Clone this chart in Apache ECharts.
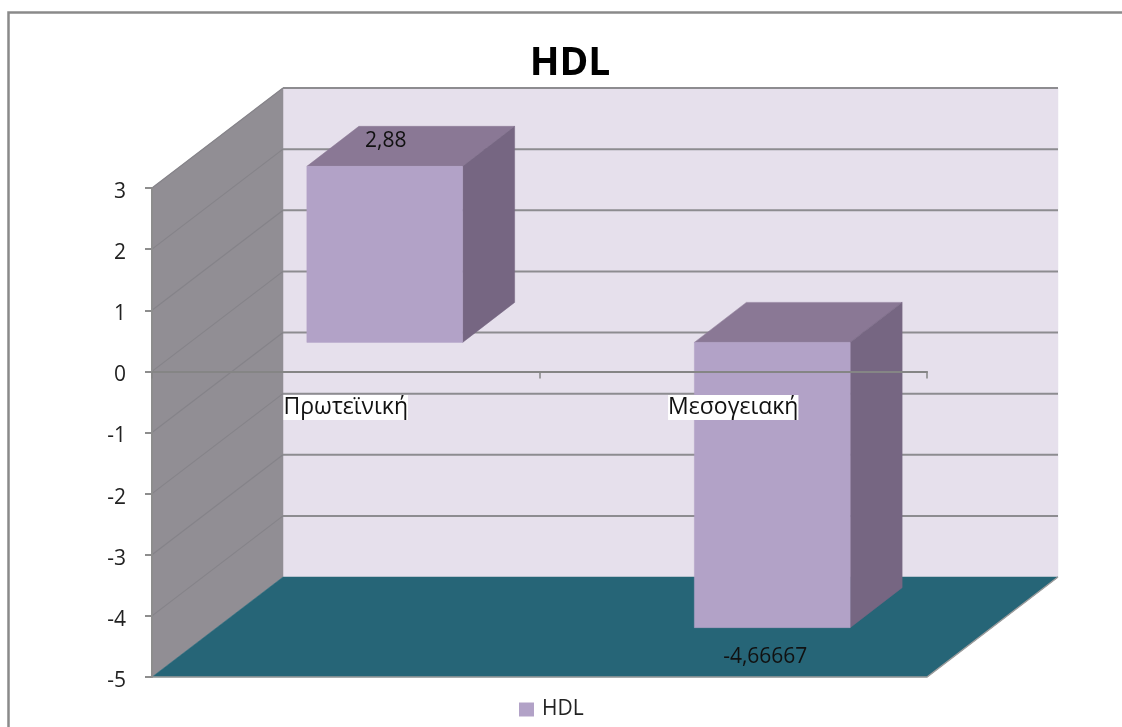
<!DOCTYPE html>
<html><head><meta charset="utf-8">
<style>html,body{margin:0;padding:0;background:#fff}#c{width:1122px;height:727px}</style>
<script src="https://cdn.jsdelivr.net/npm/echarts@6/dist/echarts.min.js"></script>
</head><body><div id="c"></div>
<script>
const categories = ['Πρωτεϊνική', 'Μεσογειακή'];
const hdlValues = [2.88, -4.66667];
const valueLabels = ['2,88', '-4,66667'];
const yTicks = [3, 2, 1, 0, -1, -2, -3, -4, -5];
const seriesName = 'HDL';
const chartTitle = 'HDL';

const FONT = '"Open Sans","Noto Sans",sans-serif';
const DX = 131, DY = -100;           // wall depth
const BAR_DX = 39, BAR_DY = -29;     // bar front offset into the box
const BAR_DEPTH_X = 52, BAR_DEPTH_Y = -40;
const BAR_RATIO = 0.402;
const C = {wall:'#918e94', back:'#e6e0ec', floor:'#266577', front:'#b2a2c7', top:'#8a7895', side:'#766682', line:'#8d8c90', sideLine:'#858389'};

function poly(points, fill, z2) {
  return {type:'polygon', shape:{points}, style:{fill, stroke:fill, lineWidth:0.5}, z2:z2||0};
}
const chart = echarts.init(document.getElementById('c'), null, {renderer:'canvas'});
chart.setOption({
  animation:false,
  backgroundColor:'#fff',
  title:{text:chartTitle, left:565, textAlign:'center', top:39, textStyle:{fontFamily:FONT, fontWeight:'bold', fontSize:39, color:'#000'}},
  legend:{data:[seriesName], left:514, top:694, itemWidth:15, itemHeight:14, itemGap:10, icon:'rect', textStyle:{fontFamily:FONT, fontSize:21, color:'#222', padding:[0,0,0,3]}},
  grid:{left:152, right:195, top:188, bottom:50},
  graphic:[{type:'polyline', shape:{points:[[8.5,727],[8.5,12.5],[1122,12.5]]}, style:{stroke:'#8a8a8a', lineWidth:2.5, fill:null}, z:0}],
  xAxis:{type:'category', data:categories, boundaryGap:true, z:10,
    axisLine:{onZero:true, lineStyle:{color:'#858585', width:2}},
    axisTick:{show:true, alignWithLabel:false, length:7, lineStyle:{color:'#858585', width:1.5}},
    axisLabel:{show:false},
    splitLine:{show:false}},
  yAxis:{type:'value', min:-5, max:3, interval:1, z:10,
    axisLine:{show:true, onZero:false, lineStyle:{color:'#8d8d8d', width:2}},
    axisTick:{show:true, length:7, lineStyle:{color:'#8d8d8d', width:2}},
    axisLabel:{fontFamily:FONT, fontSize:21, color:'#222', margin:26, verticalAlign:'top', lineHeight:8},
    splitLine:{show:false}},
  series:[
    {type:'custom', name:'walls', silent:true, z:1, data:[[0, yTicks[0]]],
      renderItem(params, api){
        const cs = params.coordSys;
        const yT = api.coord([0, yTicks[0]])[1], yB = api.coord([0, yTicks[yTicks.length-1]])[1];
        const xL = cs.x, xR = cs.x + cs.width;
        return {type:'group', children:[
          poly([[xL+DX,yT+DY],[xR+DX,yT+DY],[xR+DX,yB+DY],[xL+DX,yB+DY]], C.back),
          poly([[xL,yT],[xL+DX,yT+DY],[xL+DX,yB+DY],[xL,yB]], C.wall),
          poly([[xL,yB],[xL+DX,yB+DY],[xR+DX,yB+DY],[xR,yB]], C.floor),
          {type:'polyline', shape:{points:[[xL,yB],[xR,yB],[xR+DX,yB+DY]]}, style:{stroke:'#9c9c9c', lineWidth:1.5, fill:null}}
        ]};
      }},
    {type:'custom', name:'gridlines', silent:true, z:2, data:yTicks.slice(0,-1).map(v=>[0,v]),
      renderItem(params, api){
        const cs = params.coordSys;
        const y = api.coord([0, api.value(1)])[1];
        const xL = cs.x, xR = cs.x + cs.width;
        return {type:'group', children:[
          {type:'line', shape:{x1:xL,y1:y,x2:xL+DX,y2:y+DY}, style:{stroke:C.sideLine, lineWidth:1.2}},
          {type:'line', shape:{x1:xL+DX,y1:y+DY,x2:xR+DX,y2:y+DY}, style:{stroke:C.line, lineWidth:2}}
        ]};
      }},
    {type:'custom', name:seriesName, silent:true, z:3, itemStyle:{color:C.front},
      data:hdlValues.map((v,i)=>[i,v]),
      renderItem(params, api){
        const i = api.value(0), v = api.value(1);
        const band = api.size([1,0])[0], w = band*BAR_RATIO;
        const zero = api.coord([i,0]), end = api.coord([i,v]);
        const x0 = zero[0]+BAR_DX-w/2, x1 = x0+w;
        const yA = zero[1]+BAR_DY, yB = end[1]+BAR_DY;
        const yTop = Math.min(yA,yB), yBot = Math.max(yA,yB);
        const dx = BAR_DEPTH_X, dy = BAR_DEPTH_Y;
        const labelY = v>=0 ? yTop-25 : yBot+29;
        const labelX = (x0+x1)/2 + (v>=0 ? 1 : -7);
        return {type:'group', children:[
          poly([[x0,yTop],[x0+dx,yTop+dy],[x1+dx,yTop+dy],[x1,yTop]], C.top),
          poly([[x1,yTop],[x1+dx,yTop+dy],[x1+dx,yBot+dy],[x1,yBot]], C.side),
          poly([[x0,yTop],[x1,yTop],[x1,yBot],[x0,yBot]], C.front),
          {type:'text', z2:5, style:{text:valueLabels[i], x:labelX, y:labelY, align:'center', verticalAlign:'middle', font:'21px '+FONT, fill:'#111'}}
        ]};
      }},
    {type:'custom', name:'categoryLabels', silent:true, z:12, data:categories.map((c,i)=>[i,0]),
      renderItem(params, api){
        const i = api.value(0);
        const p = api.coord([i,0]);
        return {type:'text', z2:6, style:{text:categories[i], x:p[0], y:p[1]+36, align:'center', verticalAlign:'middle', font:'23px '+FONT, fill:'#111', backgroundColor:'#fff', padding:[0,0,2,0]}};
      }}
  ]
});
</script></body></html>
